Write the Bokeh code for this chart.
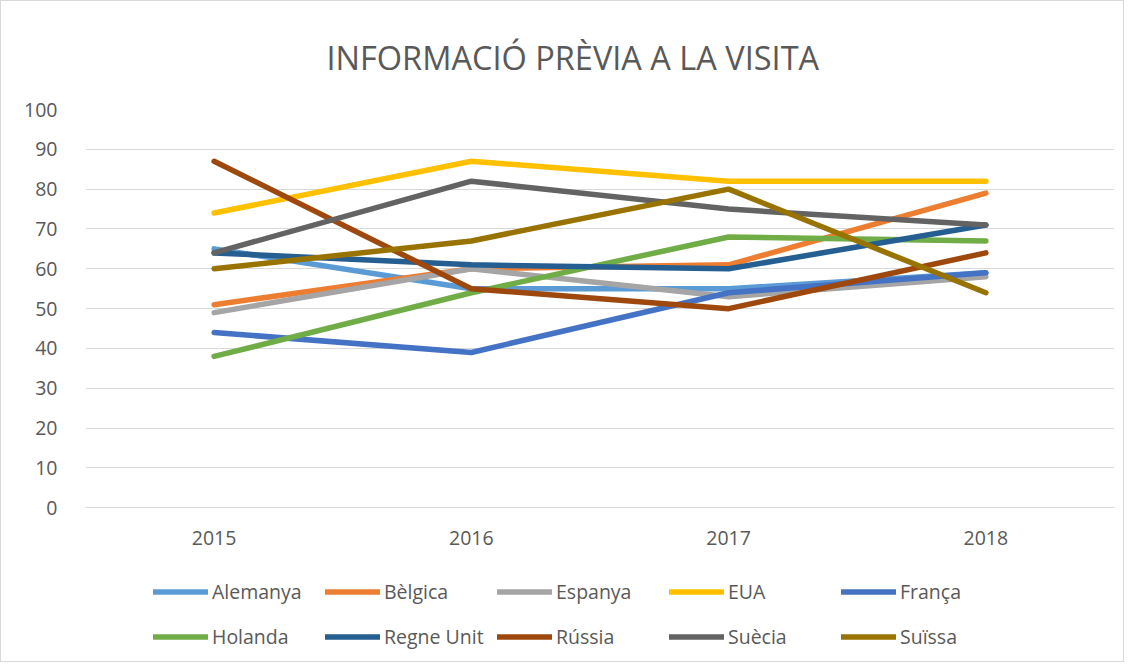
from bokeh.plotting import figure
from bokeh.models import FixedTicker, Legend, LegendItem, Range1d, FactorRange
from bokeh.embed import file_html
from bokeh.resources import INLINE

years = ["2015", "2016", "2017", "2018"]
alemanya = [65, 55, 55, 59]
belgica = [51, 60, 61, 79]
espanya = [49, 60, 53, 58]
eua = [74, 87, 82, 82]
franca = [44, 39, 54, 59]
holanda = [38, 54, 68, 67]
regne_unit = [64, 61, 60, 71]
russia = [87, 55, 50, 64]
suecia = [64, 82, 75, 71]
suissa = [60, 67, 80, 54]
y_ticks = list(range(0, 101, 10))

names = ["Alemanya", "Bèlgica", "Espanya", "EUA", "França",
         "Holanda", "Regne Unit", "Rússia", "Suècia", "Suïssa"]
values = [alemanya, belgica, espanya, eua, franca,
          holanda, regne_unit, russia, suecia, suissa]
colors = ["#5B9BD5", "#ED7D31", "#A5A5A5", "#FFC000", "#4472C4",
          "#70AD47", "#255E91", "#9E480E", "#636363", "#997300"]

FONT = "Open Sans"
TXT = "#595959"
FS = "19.5px"

# frame extends to the bottom so the legend (in the frame) is not clipped
p = figure(width=1124, height=662,
           x_range=FactorRange(*years, range_padding=0),
           y_range=Range1d(-39.1, 100),
           output_backend="svg", toolbar_location=None,
           min_border_left=84, min_border_right=11,
           min_border_top=108, min_border_bottom=0)
p.styles = {"border": "1px solid #D9D9D9"}
p.outline_line_color = None
p.background_fill_color = "white"

p.title.text = "INFORMACIÓ PRÈVIA A LA VISITA"
p.title.align = "left"
p.title.offset = 241
p.title.text_font = FONT
p.title.text_font_size = "32.5px"
p.title.text_font_style = "normal"
p.title.text_color = TXT
p.title.standoff = 60

p.xgrid.visible = False
p.ygrid.ticker = FixedTicker(ticks=y_ticks)
p.ygrid.grid_line_color = "#D9D9D9"
p.ygrid.grid_line_width = 1

p.yaxis.ticker = FixedTicker(ticks=y_ticks)
p.yaxis.axis_line_color = None
p.yaxis.major_tick_line_color = None
p.yaxis.minor_tick_line_color = None
p.yaxis.major_label_standoff = 22
p.yaxis.major_label_text_font = FONT
p.yaxis.major_label_text_font_size = FS
p.yaxis.major_label_text_color = TXT

p.xaxis.fixed_location = 0
p.xaxis.axis_line_color = "#D9D9D9"
p.xaxis.major_tick_line_color = None
p.xaxis.minor_tick_line_color = None
p.xaxis.major_label_standoff = 17
p.xaxis.major_label_text_font = FONT
p.xaxis.major_label_text_font_size = FS
p.xaxis.major_label_text_color = TXT

items = []
for name, vals, col in zip(names, values, colors):
    r = p.line(x=years, y=vals, line_width=5.5, line_color=col,
               line_cap="round", line_join="round")
    items.append(LegendItem(label=name, renderers=[r]))

legend = Legend(items=items, location=(68, 4), orientation="horizontal",
                ncols=5, padding=0, margin=0, spacing=0,
                glyph_width=55, glyph_height=45, label_height=45,
                label_width=113, label_standoff=4,
                label_text_font=FONT, label_text_font_size=FS,
                label_text_color=TXT,
                border_line_color=None, background_fill_alpha=0)
p.add_layout(legend)

open("out.html", "w").write(file_html(p, INLINE))
